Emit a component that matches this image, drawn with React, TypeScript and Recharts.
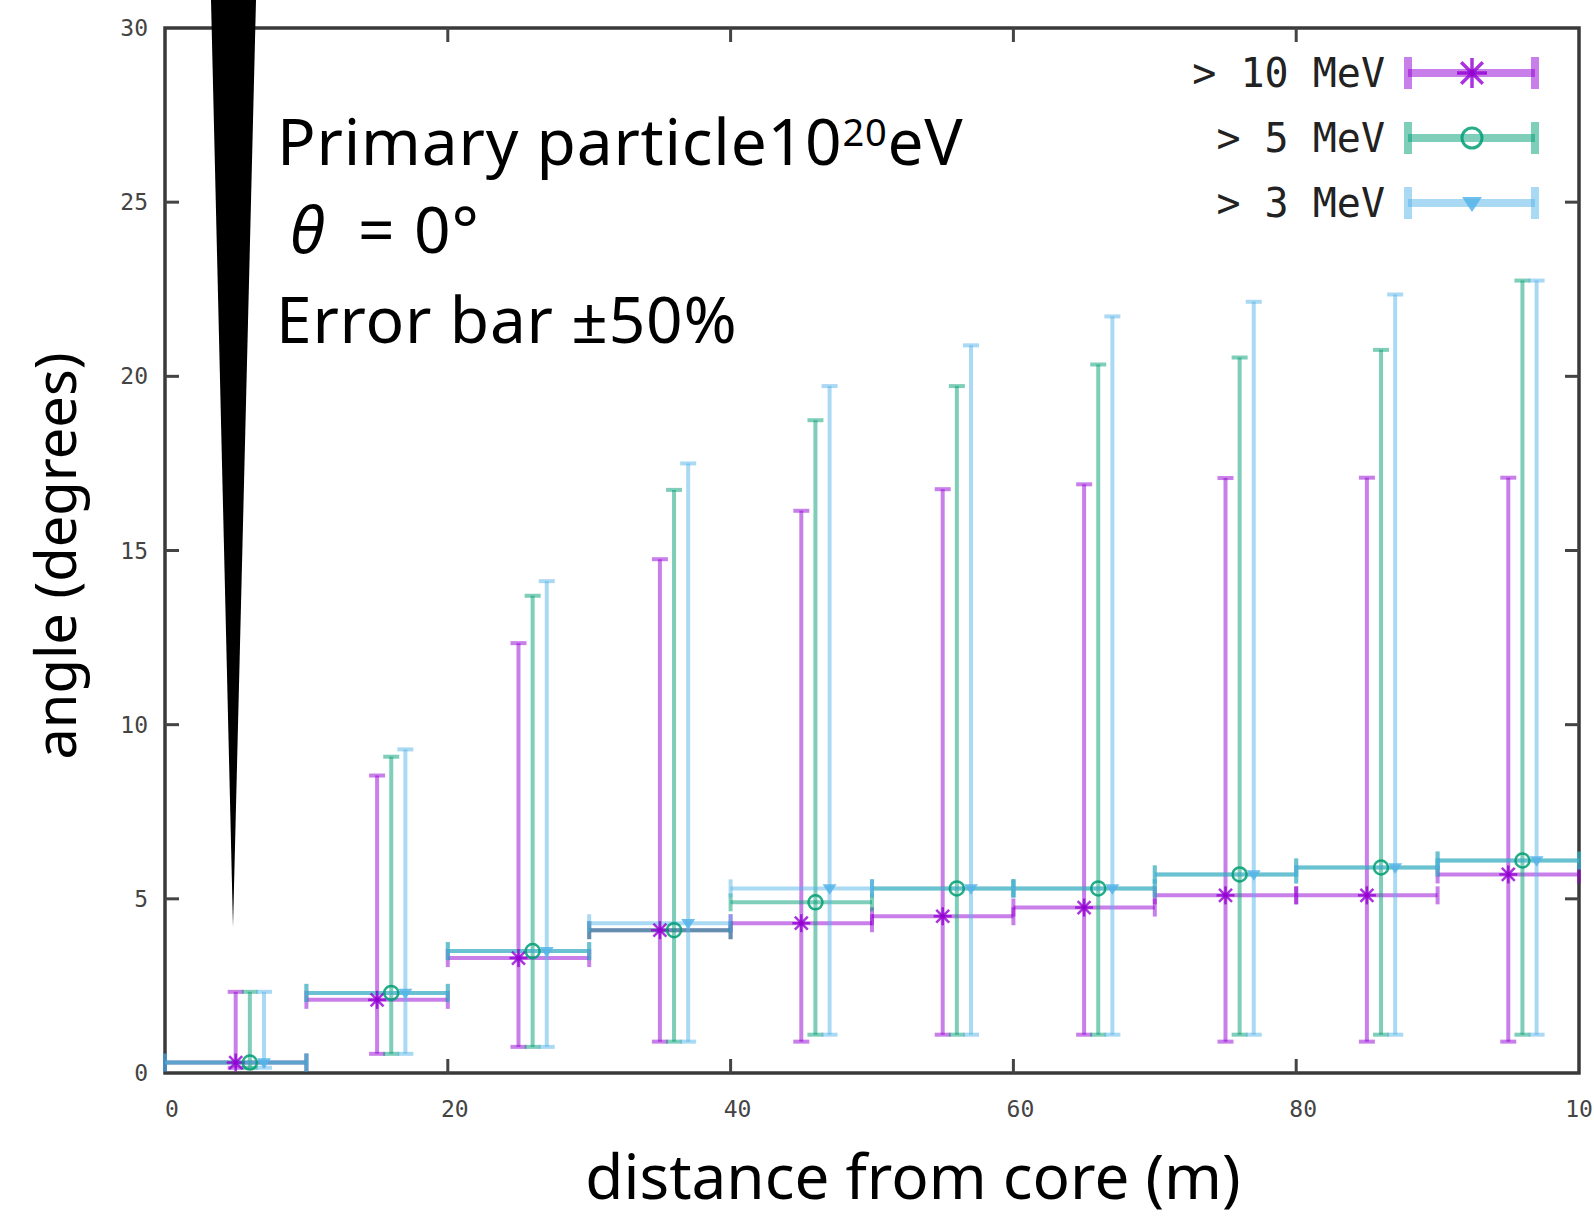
import React from "react"
import { ComposedChart, Scatter, XAxis, YAxis, ErrorBar, ReferenceArea } from "recharts"

// distance bins (m)
const binLo = [0, 10, 20, 30, 40, 50, 60, 70, 80, 90]
const binHi = [10, 20, 30, 40, 50, 60, 70, 80, 90, 100]

// > 10 MeV
const x10 = [5, 15, 25, 35, 45, 55, 65, 75, 85, 95]
const y10 = [0.3, 2.1, 3.3, 4.1, 4.3, 4.5, 4.75, 5.1, 5.1, 5.7]
const lo10 = [0.15, 0.55, 0.75, 0.9, 0.9, 1.1, 1.1, 0.9, 0.9, 0.9]
const hi10 = [2.33, 8.54, 12.34, 14.75, 16.14, 16.76, 16.9, 17.08, 17.09, 17.09]

// > 5 MeV
const x5 = [6, 16, 26, 36, 46, 56, 66, 76, 86, 96]
const y5 = [0.3, 2.3, 3.5, 4.1, 4.9, 5.3, 5.3, 5.7, 5.9, 6.1]
const lo5 = [0.15, 0.55, 0.75, 0.9, 1.1, 1.1, 1.1, 1.1, 1.1, 1.1]
const hi5 = [2.33, 9.08, 13.7, 16.74, 18.74, 19.72, 20.34, 20.54, 20.76, 22.75]

// > 3 MeV
const x3 = [7, 17, 27, 37, 47, 57, 67, 77, 87, 97]
const y3 = [0.3, 2.3, 3.5, 4.3, 5.3, 5.3, 5.3, 5.7, 5.9, 6.1]
const lo3 = [0.15, 0.55, 0.75, 0.9, 1.1, 1.1, 1.1, 1.1, 1.1, 1.1]
const hi3 = [2.33, 9.29, 14.12, 17.5, 19.72, 20.89, 21.72, 22.14, 22.35, 22.75]

const xTicks = [0, 20, 40, 60, 80, 100]
const yTicks = [0, 5, 10, 15, 20, 25, 30]
const legendNames = ["> 10 MeV", "> 5 MeV", "> 3 MeV"]

const PURPLE = "#9400d3"
const GREEN = "#009e73"
const BLUE = "#56b4e9"

const W = 1594
const H = 1217
const LEFT = 165
const RIGHT = 1579
const TOP = 28
const BOTTOM = 1073
const MONO = "'DejaVu Sans Mono', monospace"
const SANS = "'Noto Sans', sans-serif"

function rows(xs: number[], ys: number[], lo: number[], hi: number[]) {
  return xs.map((x, i) => ({
    x,
    y: ys[i],
    xErr: [x - binLo[i], binHi[i] - x],
    yErr: [ys[i] - lo[i], hi[i] - ys[i]],
  }))
}

const d10 = rows(x10, y10, lo10, hi10)
const d5 = rows(x5, y5, lo5, hi5)
const d3 = rows(x3, y3, lo3, hi3)

const Star = ({ cx, cy, s = 9, w = 2.5 }: any) => {
  const d = s * 0.72
  return (
    <g stroke={PURPLE} strokeWidth={w} strokeOpacity={0.8}>
      <line x1={cx - s} y1={cy} x2={cx + s} y2={cy} />
      <line x1={cx} y1={cy - s} x2={cx} y2={cy + s} />
      <line x1={cx - d} y1={cy - d} x2={cx + d} y2={cy + d} />
      <line x1={cx - d} y1={cy + d} x2={cx + d} y2={cy - d} />
    </g>
  )
}

const Ring = ({ cx, cy, s = 7, w = 2.5 }: any) => (
  <circle cx={cx} cy={cy} r={s} fill="none" stroke={GREEN} strokeWidth={w} strokeOpacity={0.85} />
)

const TriDown = ({ cx, cy, s = 7 }: any) => (
  <polygon
    points={`${cx - s},${cy - s * 0.6} ${cx + s},${cy - s * 0.6} ${cx},${cy + s * 0.9}`}
    fill={BLUE}
    fillOpacity={0.85}
  />
)

const XTick = ({ x, payload }: any) => {
  const v = payload.value
  return (
    <g>
      {v > 0 && v < 100 && (
        <g stroke="#444" strokeWidth={3}>
          <line x1={x} y1={BOTTOM} x2={x} y2={BOTTOM - 14} />
          <line x1={x} y1={TOP} x2={x} y2={TOP + 14} />
        </g>
      )}
      <text x={x + 7} y={BOTTOM + 36} textAnchor="middle" dominantBaseline="central" fontFamily={MONO} fontSize={23} fill="#444">
        {v}
      </text>
    </g>
  )
}

const YTick = ({ y, payload }: any) => {
  const v = payload.value
  return (
    <g>
      {v > 0 && v < 30 && (
        <g stroke="#444" strokeWidth={3}>
          <line x1={LEFT} y1={y} x2={LEFT + 14} y2={y} />
          <line x1={RIGHT} y1={y} x2={RIGHT - 14} y2={y} />
        </g>
      )}
      <text x={LEFT - 17} y={y} textAnchor="end" dominantBaseline="central" fontFamily={MONO} fontSize={23} fill="#444">
        {v}
      </text>
    </g>
  )
}

const series = [
  { data: d10, color: PURPLE, shape: (p: any) => <Star {...p} /> },
  { data: d5, color: GREEN, shape: (p: any) => <Ring {...p} /> },
  { data: d3, color: BLUE, shape: (p: any) => <TriDown {...p} /> },
]

export default function App() {
  return (
    <div style={{ position: "absolute", left: 0, top: 0, width: W, height: H, background: "#fff" }}>
      <ComposedChart width={W} height={H} margin={{ top: TOP, right: W - RIGHT, left: 0, bottom: 0 }}>
        <XAxis
          type="number"
          dataKey="x"
          domain={[0, 100]}
          ticks={xTicks}
          allowDataOverflow
          axisLine={false}
          tickLine={false}
          tickSize={0}
          tickMargin={0}
          height={H - BOTTOM}
          tick={<XTick />}
        />
        <YAxis
          type="number"
          dataKey="y"
          domain={[0, 30]}
          ticks={yTicks}
          allowDataOverflow
          axisLine={false}
          tickLine={false}
          tickSize={0}
          tickMargin={0}
          width={LEFT}
          tick={<YTick />}
        />
        <ReferenceArea x1={0} x2={100} y1={0} y2={30} fill="none" stroke="#3a3a3a" strokeWidth={3.5} />
        {series.map((s, i) => (
          <Scatter key={i} data={s.data} dataKey="y" isAnimationActive={false} shape={s.shape}>
            <ErrorBar dataKey="yErr" direction="y" width={8} stroke={s.color} strokeOpacity={0.5} strokeWidth={4} isAnimationActive={false} />
            <ErrorBar dataKey="xErr" direction="x" width={9} stroke={s.color} strokeOpacity={0.5} strokeWidth={4} isAnimationActive={false} />
          </Scatter>
        ))}
      </ComposedChart>

      <svg width={W} height={H} style={{ position: "absolute", left: 0, top: 0, pointerEvents: "none" }}>
        {/* pointer wedge */}
        <polygon points="211,0 256,0 233,927" fill="#000" />

        {/* annotations */}
        <g fontFamily={SANS} fill="#000" fontSize={64} letterSpacing={0.8}>
          <text x={277} y={165}>
            Primary particle10
            <tspan fontSize={38} dy={-19}>20</tspan>
            <tspan dy={19}>eV</tspan>
          </text>
          <text y={253}>
            <tspan x={290} fontStyle="italic">θ</tspan>
            <tspan x={358}>=</tspan>
            <tspan x={414}>0°</tspan>
          </text>
          <text x={276} y={343}>Error bar ±50%</text>
        </g>

        {/* legend */}
        {legendNames.map((name, i) => {
          const cy = 73 + i * 65
          const c = [PURPLE, GREEN, BLUE][i]
          return (
            <g key={name}>
              <text x={1385} y={cy} textAnchor="end" dominantBaseline="central" fontFamily={MONO} fontSize={40} fill="#222" style={{ whiteSpace: "pre" }}>
                {name}
              </text>
              <g stroke={c} strokeOpacity={0.5} strokeWidth={8}>
                <line x1={1408} y1={cy} x2={1535} y2={cy} />
                <line x1={1408} y1={cy - 16} x2={1408} y2={cy + 16} />
                <line x1={1535} y1={cy - 16} x2={1535} y2={cy + 16} />
              </g>
              {i === 0 && <Star cx={1472} cy={cy} s={15} w={3.5} />}
              {i === 1 && <Ring cx={1472} cy={cy} s={10} w={3} />}
              {i === 2 && <TriDown cx={1472} cy={cy} s={10} />}
            </g>
          )
        })}

        {/* axis titles */}
        <text x={913} y={1199} textAnchor="middle" fontFamily={SANS} fontSize={62} fill="#000">
          distance from core (m)
        </text>
        <text transform="translate(76,556) rotate(-90)" textAnchor="middle" fontFamily={SANS} fontSize={56} fill="#000">
          angle (degrees)
        </text>
      </svg>
    </div>
  )
}
